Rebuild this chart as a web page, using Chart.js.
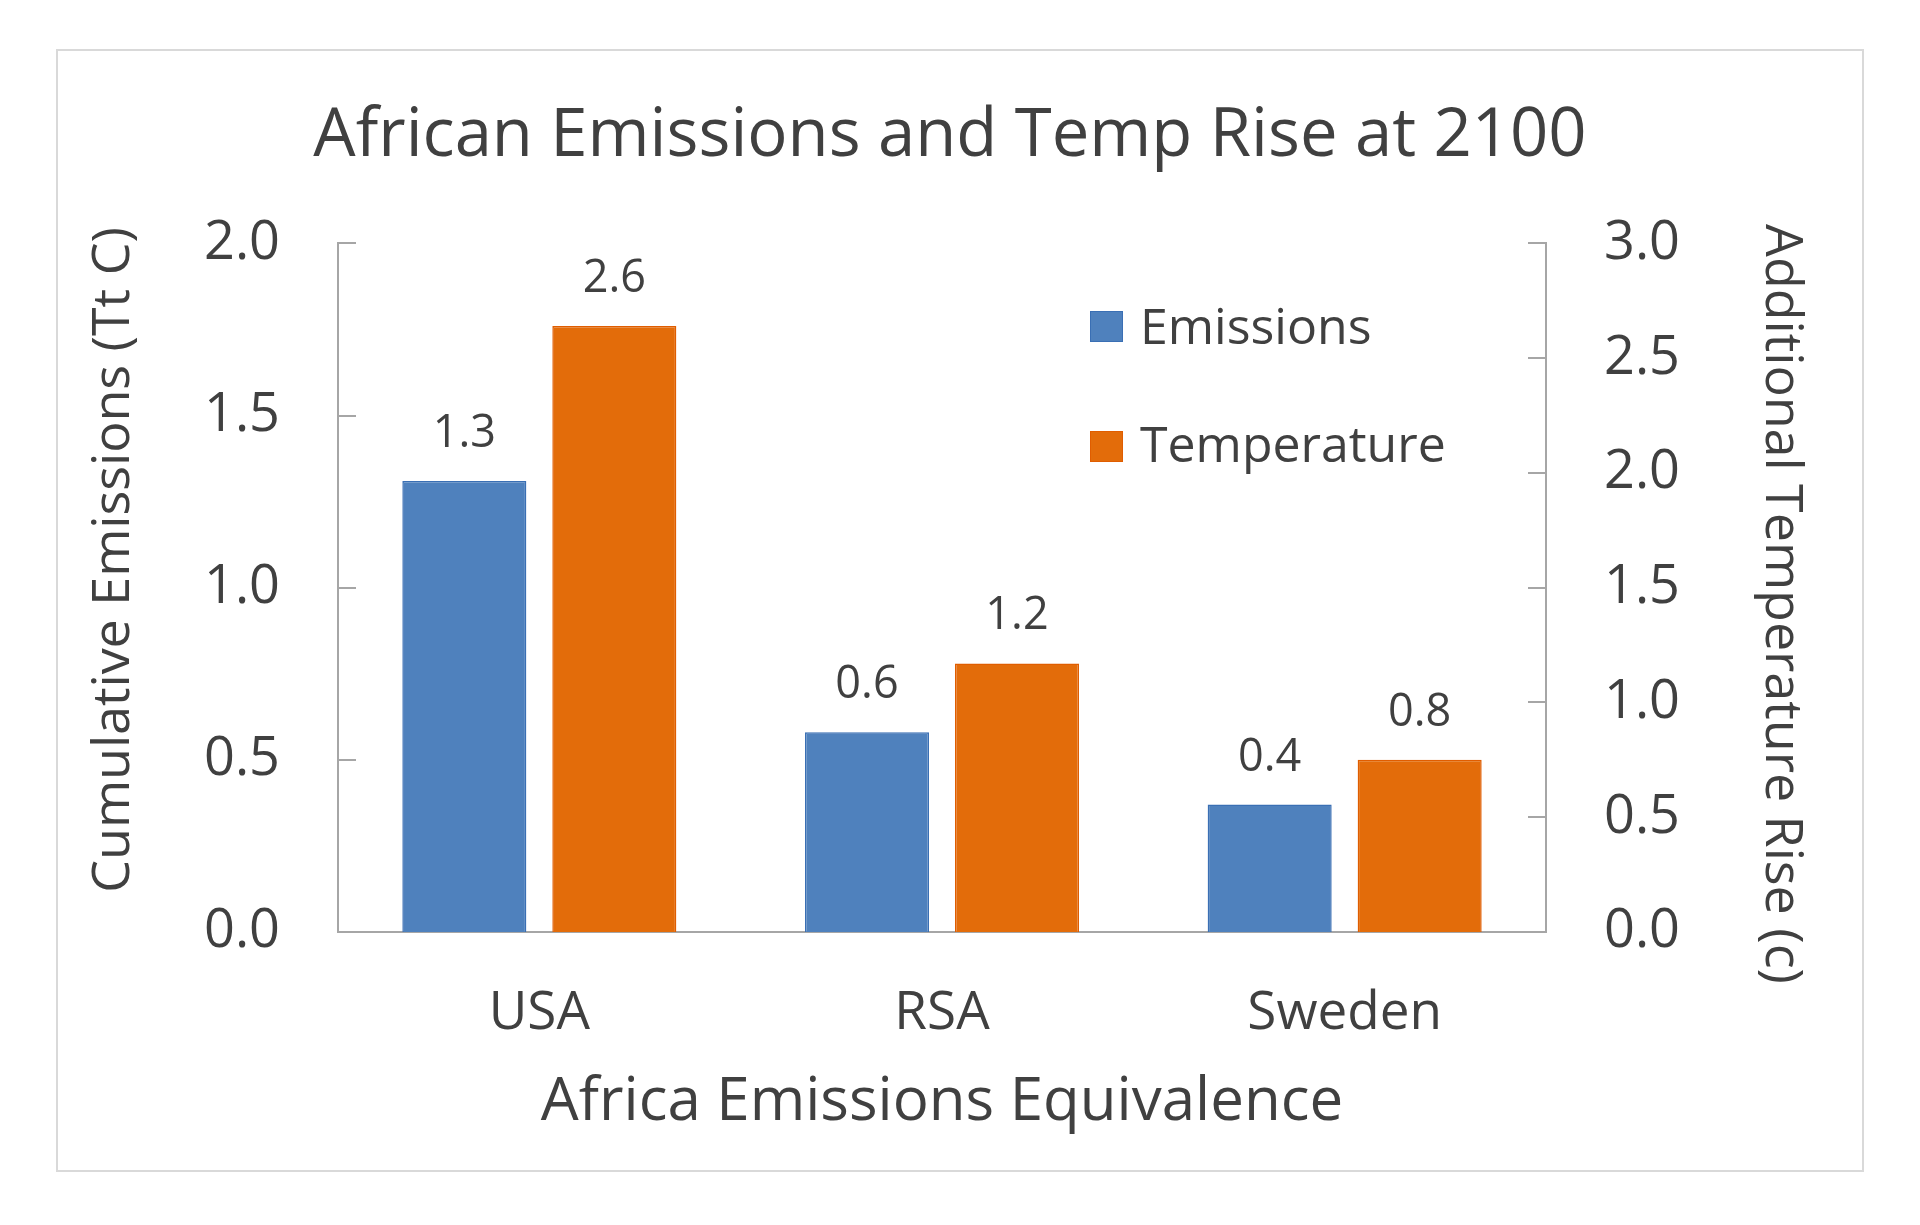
<!DOCTYPE html>
<html>
<head>
<meta charset="utf-8">
<script src="https://cdn.jsdelivr.net/npm/chart.js@4.4.1/dist/chart.umd.min.js"></script>
<style>
  html, body { margin: 0; padding: 0; background: #ffffff; }
  #wrap { position: relative; width: 1920px; height: 1225px; }
</style>
</head>
<body>
<div id="wrap"><canvas id="c" width="1920" height="1225"></canvas></div>
<script>
// ---- data ----
const categories = ['USA', 'RSA', 'Sweden'];
const emissions = [1.31, 0.58, 0.37];        // Tt C (left axis)
const temperature = [2.64, 1.17, 0.75];      // deg C (right axis)
const seriesNames = ['Emissions', 'Temperature'];
const leftTickValues = [0, 0.5, 1.0, 1.5, 2.0];
const rightTickValues = [0, 0.5, 1.0, 1.5, 2.0, 2.5, 3.0];
const chartTitle = 'African Emissions and Temp Rise at 2100';
const xTitle = 'Africa Emissions Equivalence';
const yLeftTitle = 'Cumulative Emissions (Tt C)';
const yRightTitle = 'Additional Temperature Rise (c)';

// ---- style ----
const FONT = "'Open Sans', 'DejaVu Sans', sans-serif";
const TEXT = '#404040';
const AXIS = '#a6a6a6';
const BLUE = '#4F81BD', BLUE_EDGE = '#3A6FB4';
const ORANGE = '#E36C0A', ORANGE_EDGE = '#E05D00';

const extras = {
  id: 'extras',
  beforeDraw(chart) {
    const ctx = chart.ctx;
    ctx.save();
    ctx.fillStyle = '#ffffff';
    ctx.fillRect(0, 0, chart.width, chart.height);
    ctx.strokeStyle = '#d9d9d9';
    ctx.lineWidth = 2;
    ctx.strokeRect(57, 50, 1806, 1121);
    ctx.restore();
  },
  afterDatasetsDraw(chart) {
    const ctx = chart.ctx;
    ctx.save();
    ctx.font = '45px ' + FONT;
    ctx.fillStyle = TEXT;
    ctx.textAlign = 'center';
    ctx.textBaseline = 'alphabetic';
    chart.data.datasets.forEach((ds, di) => {
      const meta = chart.getDatasetMeta(di);
      meta.data.forEach((el, i) => {
        ctx.fillText(ds.data[i].toFixed(1), el.x, el.y - 34);
      });
    });
    ctx.restore();
  },
  afterDraw(chart) {
    const ctx = chart.ctx;
    const ya = chart.scales.y, yb = chart.scales.y1;
    ctx.save();
    // inside tick marks
    ctx.strokeStyle = AXIS;
    ctx.lineWidth = 2;
    ya.ticks.forEach(t => {
      const p = Math.round(ya.getPixelForValue(t.value));
      ctx.beginPath(); ctx.moveTo(ya.right, p); ctx.lineTo(ya.right + 18, p); ctx.stroke();
    });
    yb.ticks.forEach(t => {
      const p = Math.round(yb.getPixelForValue(t.value));
      ctx.beginPath(); ctx.moveTo(yb.left, p); ctx.lineTo(yb.left - 18, p); ctx.stroke();
    });
    // axis titles
    ctx.fillStyle = TEXT;
    ctx.font = '52px ' + FONT;
    ctx.textAlign = 'center';
    ctx.textBaseline = 'alphabetic';
    ctx.save();
    ctx.translate(129, 560);
    ctx.rotate(-Math.PI / 2);
    ctx.fillText(yLeftTitle, 0, 0);
    ctx.restore();
    ctx.save();
    ctx.translate(1766, 604);
    ctx.rotate(Math.PI / 2);
    ctx.fillText(yRightTitle, 0, 0);
    ctx.restore();
    // legend
    ctx.font = '50px ' + FONT;
    ctx.textAlign = 'left';
    const rows = [{sq: 311, base: 344}, {sq: 431, base: 462}];
    chart.data.datasets.forEach((ds, di) => {
      const r = rows[di];
      ctx.fillStyle = ds.backgroundColor;
      ctx.fillRect(1090, r.sq, 33, 31);
      ctx.strokeStyle = ds.borderColor;
      ctx.lineWidth = 1;
      ctx.strokeRect(1090.5, r.sq + 0.5, 32, 30);
      ctx.fillStyle = TEXT;
      ctx.fillText(ds.label, 1140, r.base);
    });
    ctx.restore();
  }
};

function build() {
  new Chart(document.getElementById('c'), {
    type: 'bar',
    data: {
      labels: categories,
      datasets: [
        { label: seriesNames[0], data: emissions, yAxisID: 'y',
          backgroundColor: BLUE, borderColor: BLUE_EDGE, borderWidth: 1.5,
          categoryPercentage: 0.745, barPercentage: 0.827 },
        { label: seriesNames[1], data: temperature, yAxisID: 'y1',
          backgroundColor: ORANGE, borderColor: ORANGE_EDGE, borderWidth: 1.5,
          categoryPercentage: 0.745, barPercentage: 0.827 }
      ]
    },
    options: {
      responsive: false,
      animation: false,
      layout: { padding: { top: 0, left: 0, bottom: 0, right: 20 } },
      plugins: {
        legend: { display: false },
        tooltip: { enabled: false },
        title: {
          display: true,
          text: chartTitle,
          color: TEXT,
          font: { family: FONT, size: 67, weight: 'normal', lineHeight: 1.2 },
          padding: { top: 97, bottom: 66 }
        }
      },
      scales: {
        x: {
          grid: { display: false, drawTicks: false },
          border: { display: true, color: AXIS, width: 2 },
          ticks: { color: TEXT, font: { family: FONT, size: 53 }, padding: 50 },
          title: {
            display: true, text: xTitle, color: TEXT,
            font: { family: FONT, size: 60, lineHeight: 1.2 },
            padding: { top: 0, bottom: 86 }
          },
          afterFit(s) { s.height = 293; }
        },
        y: {
          position: 'left',
          min: 0, max: 2,
          afterBuildTicks(s) { s.ticks = leftTickValues.map(v => ({ value: v })); },
          grid: { display: false, drawTicks: false },
          border: { display: true, color: AXIS, width: 2 },
          ticks: { color: TEXT, font: { family: FONT, size: 54 }, padding: 58,
                   callback: v => Number(v).toFixed(1) },
          afterFit(s) { s.width = 338; }
        },
        y1: {
          position: 'right',
          min: 0, max: 3,
          afterBuildTicks(s) { s.ticks = rightTickValues.map(v => ({ value: v })); },
          grid: { display: false, drawTicks: false },
          border: { display: true, color: AXIS, width: 2 },
          ticks: { color: TEXT, font: { family: FONT, size: 54 }, padding: 58,
                   callback: v => Number(v).toFixed(1) },
          afterFit(s) { s.width = 354; }
        }
      }
    },
    plugins: [extras]
  });
}

if (document.fonts && document.fonts.load) {
  Promise.all([
    document.fonts.load("50px 'Open Sans'"),
  ]).then(build, build);
} else {
  build();
}
</script>
</body>
</html>
